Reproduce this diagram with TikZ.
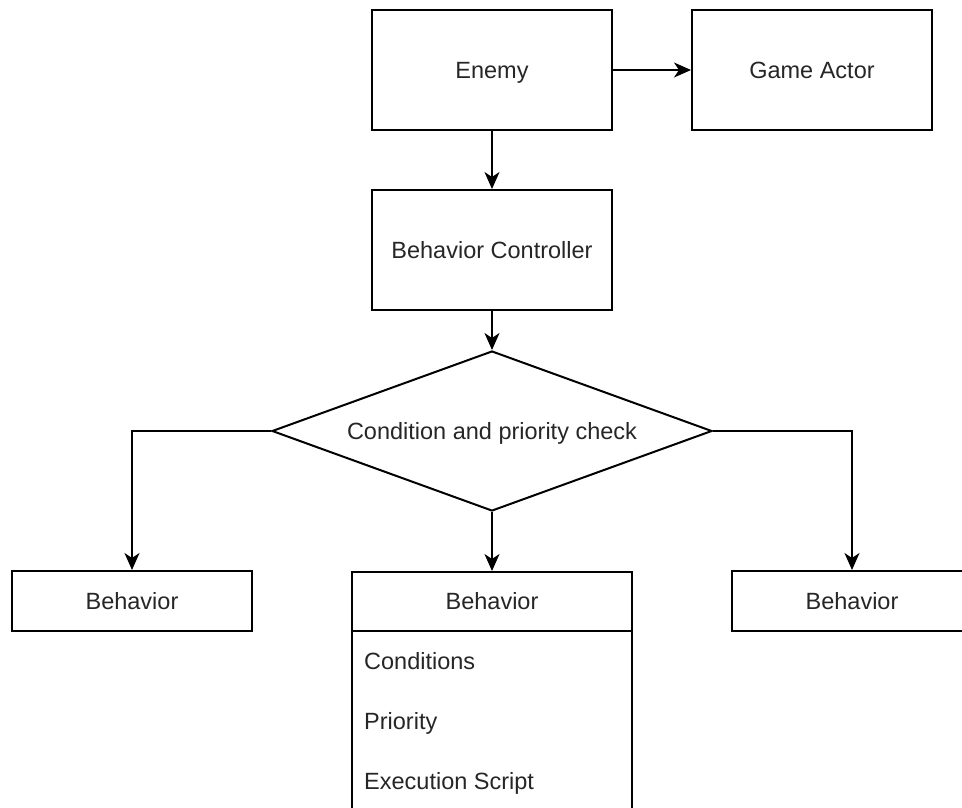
\documentclass[tikz,border=0pt]{standalone}
\usepackage{fontspec}
\setmainfont{Liberation Sans}
\usetikzlibrary{shapes.geometric,arrows.meta}
\begin{document}
\begin{tikzpicture}[x=1pt,y=-1pt,
  every node/.style={font=\fontsize{23.5}{28}\selectfont, text=black!85, text height=16.8pt, text depth=0pt},
  box/.style={draw=black, line width=2pt, rectangle, inner sep=0pt, minimum width=240pt, minimum height=120pt},
  smallbox/.style={draw=black, line width=2pt, rectangle, inner sep=0pt, minimum width=240pt, minimum height=60pt},
  decision/.style={draw=black, line width=2pt, diamond, inner sep=0pt, shape aspect=2.75, minimum width=440pt, minimum height=160pt},
  conn/.style={draw=black, line width=2pt, -{Stealth[length=17pt,width=15pt,inset=5pt]}},
  outline/.style={draw=black, line width=2pt},
  item/.style={anchor=west, inner sep=0pt}
]
\useasboundingbox (0,0) rectangle (962,807);

\node[box] (enemy) at (492,70) {Enemy};
\node[box] (actor) at (812,70) {Game Actor};
\node[box] (ctrl) at (492,250) {Behavior Controller};
\node[decision] (check) at (492,431) {Condition and priority check};
\node[smallbox] (behL) at (132,601) {Behavior};
\node[smallbox] (behR) at (852,601) {Behavior};
\node[draw=black, line width=2pt, rectangle, inner sep=0pt, minimum width=280pt, minimum height=240pt, anchor=north] (behCbox) at (492,571) {};
\node[rectangle, inner sep=0pt, minimum width=280pt, minimum height=60pt, anchor=north] (behC) at (behCbox.north) {Behavior};
\draw[outline] (behC.south west) -- (behC.south east);
\node[item] (cond) at (364,661) {Conditions};
\node[item] (prio) at (364,721) {Priority};
\node[item] (exec) at (364,781) {Execution Script};

\draw[conn] (enemy.east) -- (actor.west);
\draw[conn] (enemy.south) -- (ctrl.north);
\draw[conn] (ctrl.south) -- (check.north);
\draw[conn] (check.west) -| (behL.north);
\draw[conn] (check.east) -| (behR.north);
\draw[conn] (check.south) -- (behC.north);
\end{tikzpicture}
\end{document}
